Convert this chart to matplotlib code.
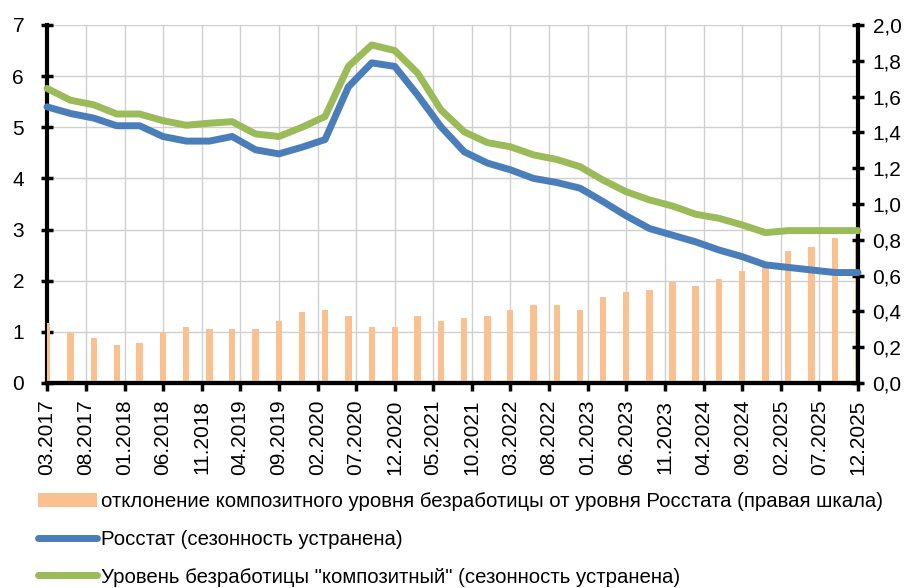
import pandas as pd
import matplotlib.pyplot as plt
from matplotlib.ticker import FuncFormatter, MultipleLocator
import matplotlib.dates as mdates

plt.rcParams['font.family'] = ['Liberation Sans', 'DejaVu Sans']

# quarterly observations, 03.2017 - 12.2025
dates = pd.date_range('2017-03-01', '2025-12-01', freq='3MS')

rosstat = [5.40, 5.27, 5.18, 5.03, 5.03, 4.82, 4.73, 4.73, 4.82, 4.56, 4.48, 4.61,
           4.76, 5.79, 6.26, 6.19, 5.63, 5.01, 4.52, 4.30, 4.17, 4.00, 3.92, 3.81,
           3.55, 3.27, 3.02, 2.89, 2.76, 2.60, 2.47, 2.31, 2.26, 2.21, 2.16, 2.16]
composite = [5.76, 5.53, 5.44, 5.26, 5.26, 5.13, 5.04, 5.08, 5.11, 4.87, 4.82, 5.00,
             5.21, 6.19, 6.61, 6.50, 6.06, 5.34, 4.91, 4.70, 4.62, 4.46, 4.37, 4.23,
             3.97, 3.74, 3.58, 3.46, 3.30, 3.22, 3.09, 2.94, 2.98, 2.98, 2.98, 2.98]
deviation = [0.337, 0.277, 0.25, 0.212, 0.225, 0.287, 0.311, 0.30, 0.30, 0.30, 0.348, 0.398,
             0.408, 0.374, 0.311, 0.311, 0.374, 0.348, 0.361, 0.374, 0.408, 0.434, 0.434, 0.408,
             0.482, 0.507, 0.52, 0.566, 0.544, 0.583, 0.627, 0.66, 0.739, 0.761, 0.812, 0.82]

tick_dates = pd.date_range('2017-03-01', '2025-12-01', freq='5MS')

labels = ['отклонение композитного уровня безработицы от уровня Росстата (правая шкала)',
          'Росстат (сезонность устранена)',
          'Уровень безработицы "композитный" (сезонность устранена)']

c_bar = '#FAC090'
c_blue = '#4A7EBB'
c_green = '#9BBB59'

fig = plt.figure(figsize=(9.17, 5.88), dpi=100)
ax = fig.add_axes([47/917, 1-383/588, (858-47)/917, (383-25)/588])
ax_r = ax.twinx()
ax_l = fig.add_axes(ax.get_position(), sharex=ax, sharey=ax, frameon=False)
ax_l.axis('off')
ax_r.set_zorder(ax.get_zorder() + 1)
ax_l.set_zorder(ax_r.get_zorder() + 1)

# bars on the right scale
bars = ax_r.bar(dates, deviation, width=25, color=c_bar, label=labels[0])
ax_r.set_ylim(0, 2.0)
ax_r.yaxis.set_major_locator(MultipleLocator(0.2))
ax_r.yaxis.set_major_formatter(FuncFormatter(lambda v, p: f'{v:.1f}'.replace('.', ',')))

# lines on the left scale
l1, = ax_l.plot(dates, rosstat, color=c_blue, lw=5, solid_capstyle='round',
                solid_joinstyle='round', clip_on=False, label=labels[1])
l2, = ax_l.plot(dates, composite, color=c_green, lw=5, solid_capstyle='round',
                solid_joinstyle='round', clip_on=False, label=labels[2])

ax.set_ylim(0, 7)
ax.set_xlim(dates[0], dates[-1])
ax.yaxis.set_major_locator(MultipleLocator(1))
ax.set_xticks(tick_dates)
ax.xaxis.set_major_formatter(mdates.DateFormatter('%m.%Y'))
ax.grid(True, color='#D0D0D0', lw=1)
ax.set_axisbelow(True)

for a in (ax, ax_r):
    a.spines['top'].set_visible(False)
    for s in ('left', 'right', 'bottom'):
        a.spines[s].set_linewidth(3)
        a.spines[s].set_color('black')
ax.spines['right'].set_visible(False)
ax_r.spines['left'].set_visible(False)

ax.tick_params(axis='y', direction='inout', length=9, width=2.5, labelsize=15, pad=12)
ax.tick_params(axis='x', direction='out', length=6, width=2.5, labelsize=15,
               labelrotation=90, pad=6)
ax_r.tick_params(axis='y', direction='inout', length=9, width=2.5, labelsize=15, pad=6)

fig.legend(handles=[bars, l1, l2], labels=labels, loc='upper left',
           bbox_to_anchor=(38/917, 1-492/588), frameon=False, fontsize=14.7,
           handlelength=2.9, handletextpad=0.2, labelspacing=0.92,
           borderpad=0, borderaxespad=0)

fig.savefig('out.png', dpi=100)
